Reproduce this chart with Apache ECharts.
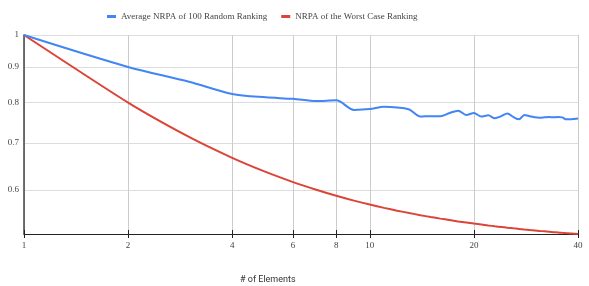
<!DOCTYPE html>
<html>
<head>
<meta charset="utf-8">
<script src="https://cdn.jsdelivr.net/npm/echarts@6/dist/echarts.min.js"></script>
<style>html,body{margin:0;padding:0;background:#fff}#c{width:589px;height:286px}</style>
</head>
<body>
<div id="c"></div>
<script>
const elements = [1,2,3,4,5,6,7,8,9,10,11,12,13,14,15,16,17,18,19,20,21,22,23,24,25,26,27,28,29,30,31,32,33,34,35,36,37,38,39,40];
const randomNRPA = [1.0,0.9,0.857,0.823,0.814,0.810,0.804,0.806,0.781,0.783,0.789,0.787,0.782,0.764,0.765,0.765,0.773,0.779,0.768,0.773,0.764,0.767,0.760,0.765,0.772,0.763,0.757,0.768,0.765,0.762,0.761,0.762,0.763,0.762,0.763,0.762,0.757,0.757,0.758,0.759];
const worstNRPA = [1.0,0.8,0.7143,0.6667,0.6364,0.6154,0.6,0.5882,0.5789,0.5714,0.5652,0.56,0.5556,0.5517,0.5484,0.5455,0.5429,0.5405,0.5385,0.5366,0.5349,0.5333,0.5319,0.5306,0.5294,0.5283,0.5273,0.5263,0.5254,0.5246,0.5238,0.5231,0.5224,0.5217,0.5211,0.5205,0.52,0.5195,0.519,0.5185];
const xTicks = [1,2,4,6,8,10,20,40];
const yTicks = [0.6,0.7,0.8,0.9,1];
const seriesNames = ['Average NRPA of 100 Random Ranking','NRPA of the Worst Case Ranking'];

const chart = echarts.init(document.getElementById('c'), null, {renderer:'canvas'});
const serif = '"Liberation Serif", "DejaVu Serif", serif';
const xBase = {
  type:'log', logBase:10, min:1, max:40, position:'bottom'
};
chart.setOption({
  animation:false,
  legend:{
    left:102, top:7, itemWidth:9, itemHeight:3, itemGap:14, icon:'rect',
    textStyle:{fontFamily:serif, fontSize:9, color:'#444'},
    data:seriesNames
  },
  title:{
    text:'# of Elements', left:235, top:270,
    textStyle:{fontFamily:'Roboto, sans-serif', fontSize:9, fontWeight:'normal', color:'#333'}
  },
  grid:{left:24, right:11, top:35, bottom:52},
  xAxis:[
    Object.assign({}, xBase, {
      axisLine:{show:true, lineStyle:{color:'#222', width:1}},
      axisTick:{show:true, length:4, lineStyle:{color:'#222'}, customValues:xTicks},
      axisLabel:{show:true, customValues:xTicks, fontFamily:serif, fontSize:9, color:'#444', margin:7},
      splitLine:{show:true, lineStyle:{color:'#ccc', width:1}},
      minorTick:{show:false}, minorSplitLine:{show:false}
    }),
    Object.assign({}, xBase, {
      axisLine:{show:false},
      axisTick:{show:true, inside:true, length:4, lineStyle:{color:'#222'}, customValues:xTicks},
      axisLabel:{show:false},
      splitLine:{show:false}
    })
  ],
  yAxis:{
    type:'log', logBase:10, min:0.5185, max:1,
    axisLine:{show:true, lineStyle:{color:'#444', width:1.5}},
    axisTick:{show:false, customValues:yTicks},
    axisLabel:{customValues:yTicks, fontFamily:serif, fontSize:9, color:'#444', margin:5,
      formatter:v => String(+v.toFixed(2))},
    splitLine:{show:true, lineStyle:{color:'#ddd', width:1}}
  },
  series:[
    {name:seriesNames[0], type:'line', smooth:0.3, showSymbol:false,
     lineStyle:{color:'#4285F4', width:2}, itemStyle:{color:'#4285F4'},
     data: elements.map((x,i)=>[x, randomNRPA[i]]), z:3},
    {name:seriesNames[1], type:'line', smooth:0.2, showSymbol:false,
     lineStyle:{color:'#DB4437', width:2}, itemStyle:{color:'#DB4437'},
     data: elements.map((x,i)=>[x, worstNRPA[i]]), z:2}
  ]
});
</script>
</body>
</html>
